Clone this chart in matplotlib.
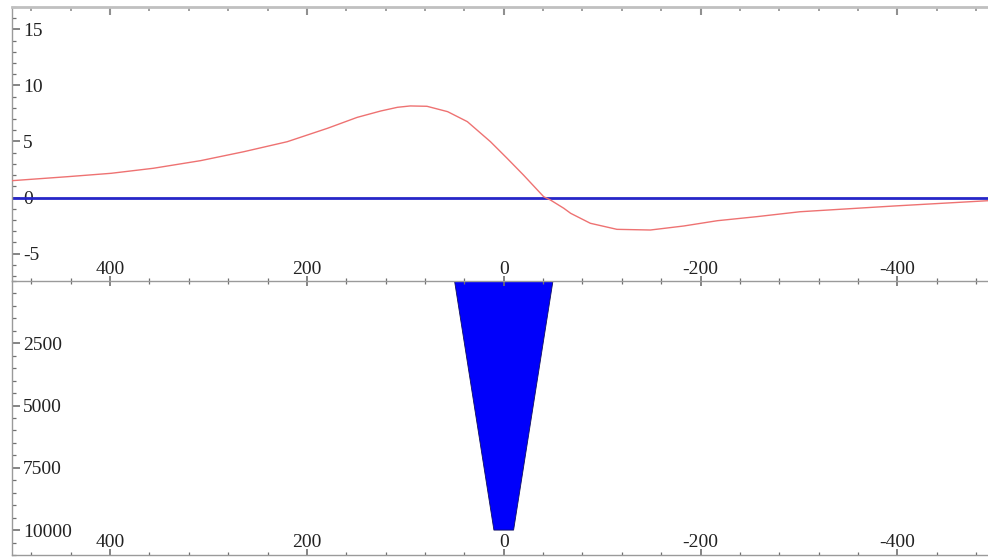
import matplotlib
matplotlib.use("Agg")
import matplotlib.pyplot as plt
from matplotlib.ticker import MultipleLocator, FixedLocator
from matplotlib.patches import Polygon

plt.rcParams['font.family'] = ['Liberation Serif', 'DejaVu Serif']
plt.rcParams['axes.unicode_minus'] = False

# Anomaly profile (upper panel)
profile_x = [500, 443, 399, 356, 308, 264, 220, 179, 149, 125, 108, 95, 78, 57, 37,
             13.5, -3.4, -20, -40.6, -47.4, -61, -68, -88, -115, -149, -183, -217,
             -257, -301, -396, -491, -500]
profile_y = [1.50, 1.86, 2.16, 2.61, 3.29, 4.09, 4.98, 6.18, 7.15, 7.72, 8.05, 8.17,
             8.14, 7.66, 6.77, 4.98, 3.50, 2.01, 0.07, -0.22, -0.96, -1.41, -2.30,
             -2.84, -2.90, -2.54, -2.07, -1.71, -1.27, -0.76, -0.29, -0.26]
baseline_y = 0

# Source body cross-section (lower panel): x and depth of the corners
body_x = [50, -50, -10, 10]
body_depth = [0, 0, 10000, 10000]

x_major = [400, 200, 0, -200, -400]
top_y_major = [-5, 0, 5, 10, 15]
bottom_y_major = [2500, 5000, 7500, 10000]

W, H = 988, 557
fig = plt.figure(figsize=(W / 100, H / 100), dpi=100)

left = 11.7 / W
right = 995.8 / W
y_top = 1 - 7 / H
y_mid = 1 - 281 / H
y_bot = 1 - 555 / H

ax_b = fig.add_axes([left, y_bot, right - left, y_mid - y_bot])
ax_t = fig.add_axes([left, y_mid, right - left, y_top - y_mid])
ax_t.set_zorder(3)
ax_t.patch.set_alpha(0)

spine_col = '#9a9a9a'
tick_col = '#707070'
lab_col = '#222222'
fs = 14

# ---------- upper panel ----------
ax_t.plot(profile_x, profile_y, color='#ee7272', lw=1.0, zorder=3)
ax_t.axhline(baseline_y, color='#2626c8', lw=2.0, zorder=2)
ax_t.set_xlim(500, -500)
ax_t.set_ylim(-7.45, 17.0)

ax_t.spines['right'].set_visible(False)
for s in ['left', 'bottom', 'top']:
    ax_t.spines[s].set_color(spine_col)
    ax_t.spines[s].set_linewidth(1.0)
ax_t.spines['top'].set_linewidth(2.0)
ax_t.spines['top'].set_color('#c0c0c0')

ax_t.xaxis.set_major_locator(FixedLocator(x_major))
ax_t.xaxis.set_minor_locator(MultipleLocator(40))
ax_t.yaxis.set_major_locator(FixedLocator(top_y_major))
ax_t.yaxis.set_minor_locator(MultipleLocator(1))

ax_t.tick_params(axis='x', which='both', direction='inout', top=False, bottom=True,
                 color=tick_col, labelcolor=lab_col, labelsize=fs)
ax_t.tick_params(axis='x', which='major', length=7, width=1.2, pad=-6.0)
ax_t.tick_params(axis='x', which='minor', length=5, width=0.9)
ax_t.tick_params(axis='y', which='both', direction='in', color=tick_col,
                 labelcolor=lab_col, labelsize=fs)
ax_t.tick_params(axis='y', which='major', length=6, width=1.2, pad=-8.3)
ax_t.tick_params(axis='y', which='minor', length=3, width=0.9)

sec = ax_t.secondary_xaxis('top')
sec.spines['top'].set_visible(False)
sec.xaxis.set_major_locator(FixedLocator(x_major))
sec.xaxis.set_minor_locator(MultipleLocator(40))
sec.tick_params(axis='x', which='both', direction='in', labeltop=False, color='#909090')
sec.tick_params(axis='x', which='major', length=6, width=1.5)
sec.tick_params(axis='x', which='minor', length=3, width=1.2)

for lab in ax_t.get_xticklabels():
    lab.set_verticalalignment('bottom')
for lab in ax_t.get_yticklabels():
    lab.set_horizontalalignment('left')
    lab.set_verticalalignment('center_baseline')

# ---------- lower panel ----------
corners = list(zip(body_x, body_depth))
poly = Polygon(corners, closed=True, facecolor='#0000fb', edgecolor='#101060', lw=0.6)
ax_b.add_patch(poly)
ax_b.set_xlim(500, -500)
ax_b.set_ylim(11000, 0)

ax_b.spines['right'].set_visible(False)
ax_b.spines['top'].set_visible(False)
for s in ['left', 'bottom']:
    ax_b.spines[s].set_color(spine_col)
    ax_b.spines[s].set_linewidth(1.0)

ax_b.xaxis.set_major_locator(FixedLocator(x_major))
ax_b.xaxis.set_minor_locator(MultipleLocator(40))
ax_b.yaxis.set_major_locator(FixedLocator(bottom_y_major))
ax_b.yaxis.set_minor_locator(MultipleLocator(500))

ax_b.tick_params(axis='x', which='both', direction='in', color=tick_col,
                 labelcolor=lab_col, labelsize=fs)
ax_b.tick_params(axis='x', which='major', length=4, width=1.2, pad=-3.0)
ax_b.tick_params(axis='x', which='minor', length=2.5, width=0.9)
ax_b.tick_params(axis='y', which='both', direction='in', color=tick_col,
                 labelcolor=lab_col, labelsize=fs)
ax_b.tick_params(axis='y', which='major', length=6, width=1.2, pad=-8.3)
ax_b.tick_params(axis='y', which='minor', length=3, width=0.9)

for lab in ax_b.get_xticklabels():
    lab.set_verticalalignment('bottom')
for lab in ax_b.get_yticklabels():
    lab.set_horizontalalignment('left')
    lab.set_verticalalignment('center_baseline')

fig.savefig('out.png', dpi=100)
